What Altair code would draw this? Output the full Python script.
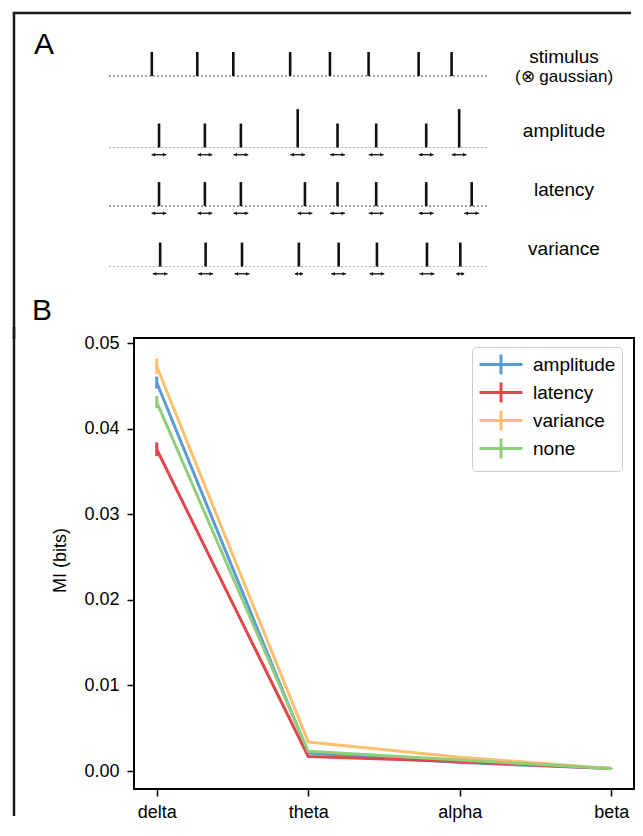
import altair as alt
import pandas as pd

# ---------------- Panel A data (spike trains, arbitrary time units) ----------------
row_names = ["stimulus", "amplitude", "latency", "variance"]
stim_times = [11.3, 23.3, 32.8, 47.8, 58.3, 68.5, 81.7, 90.4]
amplitude_times = [13.2, 25.3, 34.8, 49.8, 60.3, 70.5, 83.7, 92.4]
latency_times = [13.2, 25.3, 34.8, 51.7, 60.3, 70.5, 83.7, 95.7]
variance_times = [13.5, 25.5, 35.1, 50.1, 60.6, 70.7, 83.9, 92.7]
stim_heights = [1, 1, 1, 1, 1, 1, 1, 1]
amplitude_heights = [1, 1, 1, 1.6, 1, 1, 1, 1.6]
latency_heights = [1, 1, 1, 1, 1, 1, 1, 1]
variance_heights = [1, 1, 1, 1, 1, 1, 1, 1]
amplitude_jitter = [1, 1, 1, 1, 1, 1, 1, 1]
latency_jitter = [1, 1, 1, 1, 1, 1, 1, 1]
variance_jitter = [1, 1, 1, 0.5, 1, 1, 1, 0.5]
time_start, time_end = 0, 100
row_label_texts = ["stimulus", "(\u2297 gaussian)", "amplitude", "latency", "variance"]

# ---------------- Panel B data ----------------
bands = ["delta", "theta", "alpha", "beta"]
conditions = ["amplitude", "latency", "variance", "none"]
mi_amplitude = [0.0454, 0.0021, 0.0010, 0.0003]
mi_latency = [0.0376, 0.0017, 0.0011, 0.0003]
mi_variance = [0.0473, 0.0034, 0.0016, 0.0003]
mi_none = [0.0431, 0.0023, 0.0013, 0.0003]
err_amplitude = [0.0007, 0.0001, 0.0001, 0.00005]
err_latency = [0.0008, 0.0001, 0.0001, 0.00005]
err_variance = [0.0009, 0.0001, 0.0001, 0.00005]
err_none = [0.0007, 0.0001, 0.0001, 0.00005]
y_ticks = [0.0, 0.01, 0.02, 0.03, 0.04, 0.05]
colors = ["#5b9bd5", "#e0474c", "#fdbf6f", "#8fcf7a"]

# ---------------- layout constants ----------------
A_W, A_H = 500, 315
B_W, B_H = 500, 451
SPACING = 10
row_base = {"stimulus": 10.5, "amplitude": 7.52, "latency": 5.08, "variance": 2.56}
label_y = [11.29, 10.46, 8.21, 5.75, 3.29]
label_size = [19, 17, 19, 19, 19]
ARROW_HALF = 1.95
ARROW_DROP = 0.3
HEAD_OFF = 0.5
FRAME_X = -120
FONT = "Liberation Sans"
XDOM = [6.6, 6.6 + A_W / 3.79]
YDOM = [0, 13.125]

# ---------------- Panel A frames ----------------
spk = []
for name, times, hts, jit in [
    ("stimulus", stim_times, stim_heights, [0] * 8),
    ("amplitude", amplitude_times, amplitude_heights, amplitude_jitter),
    ("latency", latency_times, latency_heights, latency_jitter),
    ("variance", variance_times, variance_heights, variance_jitter),
]:
    b = row_base[name]
    for t, h, j in zip(times, hts, jit):
        spk.append({"row": name, "t": t, "base": b, "top": b + h,
                    "ay": b - ARROW_DROP, "jit": j,
                    "a0": t - ARROW_HALF * j, "a1": t + ARROW_HALF * j,
                    "hl": t - ARROW_HALF * j + HEAD_OFF * j,
                    "hr": t + ARROW_HALF * j - HEAD_OFF * j})
dfS = pd.DataFrame(spk)
dfArr = dfS[dfS["jit"] > 0]

dfBase = pd.DataFrame({"row": row_names,
                       "x0": [time_start] * 4, "x1": [time_end] * 4,
                       "y": [row_base[r] for r in row_names]})
dfLab = pd.DataFrame({"text": row_label_texts, "y": label_y, "fs": label_size})


def sx(field):
    return alt.X(field, scale=alt.Scale(domain=XDOM, nice=False, zero=False), axis=None)


def sy(field):
    return alt.Y(field, scale=alt.Scale(domain=YDOM, nice=False, zero=False), axis=None)


base_dark = alt.Chart(dfBase[dfBase["row"].isin(["stimulus", "latency"])]).mark_rule(
    strokeDash=[2, 2], strokeWidth=1, color="#444444").encode(
    x=sx("x0:Q"), x2="x1:Q", y=sy("y:Q"))
base_light = alt.Chart(dfBase[dfBase["row"].isin(["amplitude", "variance"])]).mark_rule(
    strokeDash=[2, 2], strokeWidth=1, color="#b0b0b0").encode(
    x=sx("x0:Q"), x2="x1:Q", y=sy("y:Q"))

spikes = alt.Chart(dfS).mark_rule(strokeWidth=2.6, color="#111111").encode(
    x=sx("t:Q"), y=sy("base:Q"), y2="top:Q")

arrow_shaft = alt.Chart(dfArr).mark_rule(strokeWidth=1.3, color="#111111").encode(
    x=sx("a0:Q"), x2="a1:Q", y=sy("ay:Q"))
head_l = alt.Chart(dfArr).mark_point(shape="triangle-left", filled=True, size=14,
                                     color="#111111", opacity=1).encode(
    x=sx("hl:Q"), y=sy("ay:Q"))
head_r = alt.Chart(dfArr).mark_point(shape="triangle-right", filled=True, size=14,
                                     color="#111111", opacity=1).encode(
    x=sx("hr:Q"), y=sy("ay:Q"))

labels = alt.Chart(dfLab).mark_text(align="center", baseline="middle", color="black").encode(
    x=alt.value(430), y=sy("y:Q"), text="text:N",
    size=alt.Size("fs:Q", scale=None, legend=None))

one = alt.Data(values=[{}])
letterA = alt.Chart(one).mark_text(text="A", fontSize=30, align="left",
                                   baseline="alphabetic", color="black").encode(
    x=alt.value(-100), y=alt.value(41))
frame_top = alt.Chart(one).mark_rule(strokeWidth=2.5, color="#1a1a1a").encode(
    x=alt.value(FRAME_X - 1.25), x2=alt.value(A_W - 3), y=alt.value(0))
frame_left_a = alt.Chart(one).mark_rule(strokeWidth=2.5, color="#1a1a1a").encode(
    x=alt.value(FRAME_X), y=alt.value(0), y2=alt.value(A_H + SPACING + 1))

panelA = alt.layer(base_dark, base_light, spikes, arrow_shaft, head_l, head_r,
                   labels, letterA, frame_top, frame_left_a).properties(
    width=A_W, height=A_H, view=alt.ViewBackground(stroke="transparent"))

# ---------------- Panel B ----------------
recs = []
for cond, vals, errs in zip(conditions, [mi_amplitude, mi_latency, mi_variance, mi_none],
                            [err_amplitude, err_latency, err_variance, err_none]):
    for i, (b, v, e) in enumerate(zip(bands, vals, errs)):
        recs.append({"band": b, "idx": i, "condition": cond, "mi": v,
                     "lo": v - e, "hi": v + e})
dfB = pd.DataFrame(recs)

xB = alt.X("band:O", sort=bands, scale=alt.Scale(type="point", padding=0.15),
           axis=alt.Axis(title=None, labelAngle=0, labelFontSize=18, labelColor="black",
                         tickColor="black", tickWidth=1.5, tickSize=7, labelPadding=7,
                         domain=False, grid=False))
yB = alt.Y("mi:Q", scale=alt.Scale(domain=[-0.0021, 0.0506], nice=False, zero=False),
           axis=alt.Axis(values=y_ticks, format=".2f", title="MI (bits)",
                         titleFontSize=18, titleFontWeight="normal", titleColor="black",
                         titleX=-74, titleY=222, titleAngle=270,
                         titleAlign="center", titleBaseline="middle",
                         labelFontSize=18, labelColor="black", tickColor="black",
                         tickWidth=1.5, tickSize=7, labelPadding=8,
                         domain=False, grid=False))
legend = alt.Legend(title=None, orient="none", legendX=338, legendY=9,
                    symbolType="M-2.15,0H2.15M0,-1V1", symbolSize=400,
                    symbolStrokeWidth=3, symbolOffset=11.5, labelOffset=20.5,
                    labelFontSize=19, labelColor="black", rowPadding=-5, padding=6,
                    strokeColor="#cccccc", cornerRadius=4, fillColor="white",
                    symbolFillColor="transparent")
color = alt.Color("condition:N", sort=conditions,
                  scale=alt.Scale(domain=conditions, range=colors), legend=legend)

lines = alt.Chart(dfB).mark_line(strokeWidth=3, strokeJoin="round").encode(
    x=xB, y=yB, color=color, order="idx:Q")
errbars = alt.Chart(dfB).mark_rule(strokeWidth=3).encode(
    x=xB, y="lo:Q", y2="hi:Q", color=color)

letterB = alt.Chart(one).mark_text(text="B", fontSize=30, align="left",
                                   baseline="alphabetic", color="black").encode(
    x=alt.value(-102), y=alt.value(-18))
frame_left_b = alt.Chart(one).mark_rule(strokeWidth=2.5, color="#1a1a1a").encode(
    x=alt.value(FRAME_X), y=alt.value(-SPACING - 1), y2=alt.value(478))

panelB = alt.layer(errbars, lines, letterB, frame_left_b).properties(width=B_W, height=B_H)

chart = alt.vconcat(panelA, panelB, spacing=SPACING, bounds="flush").resolve_scale(
    color="independent", x="independent", y="independent"
).resolve_legend(color="independent").properties(
    padding={"left": 2, "top": 2, "right": 0, "bottom": 0}
).configure(font=FONT).configure_view(stroke="black", strokeWidth=2)

chart.save("out.html", embed_options={"renderer": "svg", "actions": False})
